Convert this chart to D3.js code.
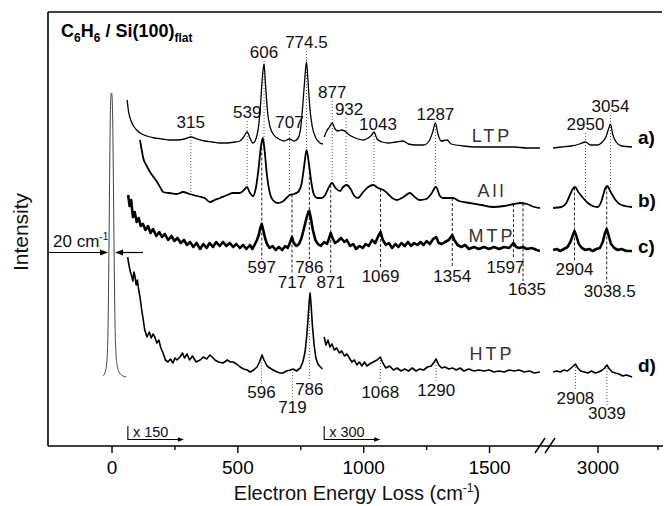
<!DOCTYPE html>
<html>
<head>
<meta charset="utf-8">
<script src="https://cdn.jsdelivr.net/npm/d3@7"></script>
<style>
  body { margin: 0; background: #fff; }
  svg { display: block; font-family: "Liberation Sans", Arial, Helvetica, sans-serif; }
</style>
</head>
<body>
<svg id="chart" width="665" height="506"></svg>
<script>
// --- Spectra: [energy loss (cm-1), intensity (arb. units)] ---
const elastic = [[-34,70],[-25,74],[-18,86],[-14,116],[-11,176],[-8,256],[-5,326],[-2,351],[0,353],[2,350],[5,321],[8,251],[11,176],[14,121],[18,91],[22,81],[30,74],[40,71],[58,69]];

// a) LTP
const ltpLow = [[62,346],[68,334],[75,327],[85,321],[100,316],[120,312],[140,310],[170,308],[200,307],[230,306],[260,306],[290,307],[315,309],[340,307],[370,305],[400,304],[430,303],[460,303],[490,304],[510,305],[525,309],[539,314],[550,308],[562,303],[575,308],[585,321],[592,341],[598,364],[606,382],[612,361],[620,334],[630,319],[645,311],[665,307],[685,305],[707,307],[725,305],[742,308],[752,319],[760,341],[767,364],[774.5,384],[781,364],[788,338],[798,319],[812,308],[828,303],[840,302]];
const ltpMid = [[845,309],[855,315],[866,319],[877,323],[888,317],[900,315],[915,316],[932,314],[945,311],[960,309],[980,307],[1000,306],[1020,308],[1034,311],[1043,314],[1055,307],[1075,304],[1100,303],[1130,304],[1158,305],[1180,302],[1210,301],[1240,301],[1262,305],[1276,314],[1287,323],[1297,312],[1310,305],[1333,306],[1350,302],[1400,300],[1450,299],[1500,299],[1550,299],[1600,299],[1650,298],[1702,298]];
const ltpHigh = [[2815,298],[2850,299],[2890,300],[2925,302],[2950,304],[2970,301],[3000,301],[3020,304],[3035,309],[3046,317],[3054,322],[3063,312],[3078,304],[3100,300],[3144,299]];

// b) All
const allLow = [[113,306],[120,296],[125,289],[140,280],[153,274],[170,268],[181,264],[195,258],[205,254],[230,253],[260,252],[284,254],[310,252],[340,250],[370,248],[391,244],[410,246],[431,248],[460,251],[483,253],[510,253],[530,257],[538,259],[550,253],[562,250],[575,260],[585,279],[594,300],[601,308],[608,296],[618,270],[630,252],[641,246],[660,243],[677,244],[695,248],[709,251],[725,252],[741,254],[755,262],[766,281],[775,296],[785,281],[795,262],[805,251],[818,248],[835,248],[849,251],[862,258],[876,263],[890,258],[908,255],[920,259],[935,261],[950,257],[965,250],[979,248],[1000,254],[1020,259],[1039,261],[1060,258],[1080,256],[1095,253],[1115,248],[1134,246],[1160,249],[1186,253],[1205,249],[1225,246],[1250,247],[1270,252],[1289,259],[1305,250],[1317,248],[1340,248],[1357,248],[1380,245],[1424,243],[1470,241],[1516,239],[1560,240],[1600,242],[1623,243],[1650,242],[1680,239],[1702,238]];
const allHigh = [[2815,238],[2850,239],[2870,243],[2885,251],[2897,257],[2906,259],[2920,254],[2940,248],[2960,243],[2980,240],[3000,239],[3015,244],[3025,252],[3033,258],[3040,260],[3055,254],[3075,246],[3100,241],[3144,239]];

// c) MTP
const mtpLow = [[66,251],[72,240],[78,246],[85,229],[92,234],[100,224],[108,228],[116,220],[125,222],[135,216],[145,220],[155,213],[165,217],[178,210],[190,214],[200,209],[212,212],[225,206],[238,210],[250,205],[262,208],[275,203],[288,206],[300,201],[312,204],[325,199],[338,203],[352,197],[365,202],[378,198],[390,203],[403,199],[416,204],[430,200],[443,204],[456,200],[470,203],[483,199],[496,202],[510,198],[523,201],[536,197],[550,201],[560,197],[570,202],[578,206],[585,211],[590,217],[597,222],[603,216],[610,208],[618,202],[628,198],[640,200],[652,196],[665,199],[678,196],[690,200],[700,198],[710,204],[717,209],[724,203],[735,200],[745,202],[755,208],[765,218],[775,228],[782,234],[786,235],[792,228],[800,216],[810,206],[820,202],[832,200],[845,204],[856,202],[865,208],[871,213],[878,208],[888,203],[900,205],[912,208],[925,204],[935,206],[948,200],[960,202],[972,197],[985,200],[998,198],[1010,202],[1022,200],[1035,206],[1048,203],[1060,210],[1069,214],[1078,206],[1090,201],[1102,203],[1115,198],[1128,202],[1140,199],[1152,203],[1165,200],[1178,204],[1190,200],[1202,203],[1215,201],[1228,204],[1240,201],[1252,205],[1265,202],[1278,207],[1290,209],[1300,203],[1312,202],[1325,204],[1340,206],[1354,211],[1362,206],[1375,201],[1390,199],[1405,201],[1420,197],[1440,199],[1460,197],[1480,199],[1500,197],[1520,199],[1540,197],[1560,199],[1580,198],[1597,203],[1608,199],[1620,198],[1635,199],[1650,197],[1670,198],[1690,196],[1702,195]];
const mtpHigh = [[2815,196],[2830,197],[2845,195],[2860,197],[2875,199],[2887,204],[2896,210],[2904,215],[2912,210],[2922,202],[2935,198],[2950,196],[2965,197],[2980,195],[2995,197],[3010,198],[3022,204],[3030,212],[3038,217],[3046,211],[3056,202],[3070,198],[3085,196],[3100,197],[3120,195],[3144,195]];

// d) HTP
const htpLow = [[64,189],[70,180],[75,174],[80,170],[85,165],[89,174],[93,170],[98,161],[103,166],[108,156],[113,149],[120,136],[125,128],[132,116],[141,109],[150,114],[158,108],[165,112],[172,109],[180,103],[188,106],[196,98],[205,93],[214,86],[224,84],[234,87],[244,83],[252,88],[260,86],[272,89],[282,93],[290,88],[300,92],[310,86],[322,90],[336,84],[352,86],[365,89],[378,87],[391,91],[400,89],[411,86],[425,84],[443,83],[460,86],[473,84],[483,84],[497,82],[511,79],[525,77],[540,76],[550,74],[565,76],[578,79],[588,84],[598,91],[606,86],[618,80],[635,77],[658,74],[670,73],[681,73],[695,75],[710,76],[721,77],[735,75],[750,78],[760,84],[769,94],[776,111],[781,128],[786,146],[789,153],[793,141],[798,121],[805,101],[812,88],[820,82],[830,79],[838,77]];
const htpMid = [[845,109],[852,101],[860,106],[868,99],[876,102],[885,96],[895,98],[905,93],[915,95],[925,90],[935,92],[945,88],[955,84],[965,86],[975,81],[985,84],[995,80],[1005,84],[1015,80],[1025,82],[1040,84],[1055,86],[1068,89],[1078,83],[1090,78],[1105,80],[1120,76],[1135,78],[1150,75],[1165,77],[1180,75],[1195,78],[1210,75],[1225,77],[1240,76],[1255,79],[1270,80],[1282,84],[1290,87],[1300,81],[1312,78],[1325,79],[1340,77],[1355,78],[1370,76],[1385,78],[1400,75],[1420,77],[1440,75],[1460,76],[1480,75],[1500,76],[1520,74],[1540,75],[1560,74],[1580,76],[1600,75],[1620,76],[1640,74],[1660,75],[1680,73],[1702,74]];
const htpHigh = [[2815,74],[2830,75],[2845,74],[2860,76],[2875,75],[2890,78],[2900,80],[2908,82],[2918,78],[2930,75],[2945,74],[2960,73],[2975,75],[2990,73],[3005,74],[3020,76],[3030,78],[3039,81],[3050,77],[3062,74],[3075,73],[3090,72],[3105,70],[3120,71],[3144,69]];

// Peak assignments (cm-1)
const ltpPeaks = [315, 539, 606, 707, 774.5, 877, 932, 1043, 1287, 2950, 3054];
const mtpPeaks = [597, 717, 786, 871, 1069, 1354, 1597, 1635, 2904, 3038.5];
const htpPeaks = [596, 719, 786, 1068, 1290, 2908, 3039];

const traceNames = ["LTP", "All", "MTP", "HTP"];
const traceTags = ["a)", "b)", "c)", "d)"];
const majorTicks = [0, 500, 1000, 1500];
const majorTicksHigh = [3000];
const minorTicks = [250, 750, 1250];
const minorTicksHigh = [3250];
const gainMarks = [[65, "x 150"], [845, "x 300"]];

// --- Layout ---
const svg = d3.select("#chart");
const xLow = d3.scaleLinear().domain([-250, 1720]).range([48.6, 544.4]);
const xHigh = d3.scaleLinear().domain([2790, 3300]).range([547.1, 669.5]);
const y = d3.scaleLinear().domain([0, 434]).range([446, 12]);
const xPos = v => v <= 1720 ? xLow(v) : xHigh(v);

// interpolate a trace at v (for the guide lines)
function valueAt(segments, v) {
  for (const seg of segments) {
    if (v >= seg[0][0] && v <= seg[seg.length - 1][0]) {
      const i = d3.bisector(d => d[0]).left(seg, v);
      if (i === 0) return seg[0][1];
      const a = seg[i - 1], b = seg[i];
      return a[1] + (b[1] - a[1]) * (v - a[0]) / (b[0] - a[0]);
    }
  }
  return 0;
}

function drawSeg(data, scale, width, curve, color) {
  const line = d3.line().x(d => scale(d[0])).y(d => y(d[1])).curve(curve);
  svg.append("path").datum(data)
    .attr("d", line)
    .attr("fill", "none")
    .attr("stroke", color || "#000")
    .attr("stroke-width", width)
    .attr("stroke-linejoin", "round");
}

// frame: left axis + top line
svg.append("line").attr("x1", 48).attr("x2", 48).attr("y1", 12).attr("y2", 446)
  .attr("stroke", "#000").attr("stroke-width", 1.6);
svg.append("line").attr("x1", 48).attr("x2", 662).attr("y1", 12).attr("y2", 12)
  .attr("stroke", "#000").attr("stroke-width", 1.6);

// bottom axis
function addAxis(scale, values, size, labels) {
  const ax = d3.axisBottom(scale).tickValues(values).tickSize(size).tickSizeOuter(0).tickPadding(8)
    .tickFormat(labels ? d3.format("d") : "");
  const g = svg.append("g").attr("transform", "translate(0,446)").call(ax);
  g.select(".domain").remove();
  g.selectAll(".tick line").attr("stroke-width", 1.4);
  g.selectAll("text").attr("font-size", 19).attr("font-family", "Liberation Sans, Arial, sans-serif").attr("fill", "#000");
}
addAxis(xLow, majorTicks, 7, true);
addAxis(xHigh, majorTicksHigh, 7, true);
addAxis(xLow, minorTicks, 4, false);
addAxis(xHigh, minorTicksHigh, 4, false);
svg.append("line").attr("x1", 48).attr("x2", 663).attr("y1", 446).attr("y2", 446)
  .attr("stroke", "#000").attr("stroke-width", 1.6);
// axis break
[[535, 545], [545, 555]].forEach(([a, b]) => {
  svg.append("line").attr("x1", a).attr("y1", 453).attr("x2", b).attr("y2", 438)
    .attr("stroke", "#000").attr("stroke-width", 1.4);
});

// axis titles
const xt = svg.append("text").attr("x", 357).attr("y", 500).attr("text-anchor", "middle")
  .attr("font-size", 20).attr("fill", "#111");
xt.append("tspan").text("Electron Energy Loss (cm");
xt.append("tspan").attr("font-size", 12).attr("dy", -8).text("-1");
xt.append("tspan").attr("dy", 8).text(")");
svg.append("text").attr("transform", "translate(28,232) rotate(-90)").attr("text-anchor", "middle")
  .attr("font-size", 21).attr("fill", "#111").text("Intensity");

// title
const tt = svg.append("text").attr("x", 61).attr("y", 37).attr("font-size", 18).attr("font-weight", "bold");
tt.append("tspan").text("C");
tt.append("tspan").attr("font-size", 12).attr("dy", 5).text("6");
tt.append("tspan").attr("dy", -5).text("H");
tt.append("tspan").attr("font-size", 12).attr("dy", 5).text("6");
tt.append("tspan").attr("dy", -5).text(" / Si(100)");
tt.append("tspan").attr("font-size", 12).attr("dy", 5).text("flat");

// guide lines and peak labels
const ltpRow = {315: 128, 539: 118, 606: 58, 707: 128, 774.5: 48, 877: 98, 932: 115, 1043: 130, 1287: 120, 2950: 130, 3054: 112};
const mtpRow = {597: 273, 717: 288, 786: 273, 871: 288, 1069: 282, 1354: 282, 1597: 273, 1635: 295, 2904: 275, 3038.5: 297};
const htpRow = {596: 398, 719: 413, 786: 395, 1068: 398, 1290: 396, 2908: 404, 3039: 419};
const labelShift = {932: 3, 1043: 4, 1597: -8, 1635: 4, 3038.5: 3};
const allSegs = [allLow, allHigh];
const htpSegs = [htpLow, htpMid, htpHigh];

function guide(xp, y1, y2, dash, color) {
  svg.append("line").attr("x1", xp).attr("x2", xp).attr("y1", y1).attr("y2", y2)
    .attr("stroke", color).attr("stroke-width", 1).attr("stroke-dasharray", dash);
}
function peakLabel(v, base, dx) {
  svg.append("text").attr("x", xPos(v) + (dx || 0)).attr("y", base).attr("text-anchor", "middle")
    .attr("font-size", 17).attr("fill", "#111").text(String(v));
}
ltpPeaks.forEach(v => {
  guide(xPos(v), ltpRow[v] + 3, y(valueAt(allSegs, v)), "1,2", "#555");
  peakLabel(v, ltpRow[v], labelShift[v]);
});
mtpPeaks.forEach(v => {
  guide(xPos(v), y(valueAt(allSegs, v)), mtpRow[v] - 14, "3,2", "#222");
  peakLabel(v, mtpRow[v], labelShift[v]);
});
htpPeaks.forEach(v => {
  guide(xPos(v), y(valueAt(htpSegs, v)), htpRow[v] - 14, "1,2", "#555");
  peakLabel(v, htpRow[v], labelShift[v]);
});

// spectra
drawSeg(elastic, xLow, 1, d3.curveMonotoneX, "#444");
drawSeg(ltpLow, xLow, 1.3, d3.curveMonotoneX);
drawSeg(ltpMid, xLow, 1.3, d3.curveMonotoneX);
drawSeg(ltpHigh, xHigh, 1.3, d3.curveMonotoneX);
drawSeg(allLow, xLow, 1.8, d3.curveMonotoneX);
drawSeg(allHigh, xHigh, 1.8, d3.curveMonotoneX);
drawSeg(mtpLow, xLow, 2.6, d3.curveLinear);
drawSeg(mtpHigh, xHigh, 2.6, d3.curveLinear);
drawSeg(htpLow, xLow, 1.6, d3.curveLinear);
drawSeg(htpMid, xLow, 1.6, d3.curveLinear);
drawSeg(htpHigh, xHigh, 1.6, d3.curveLinear);

// trace names and tags
const nameRows = [142, 197, 242, 360];
const tagRows = [144, 207, 253, 372];
traceNames.forEach((n, i) => {
  svg.append("text").attr("x", 492).attr("y", nameRows[i]).attr("text-anchor", "middle")
    .attr("font-size", 18).attr("letter-spacing", 3).attr("fill", "#333").text(n);
});
traceTags.forEach((t, i) => {
  svg.append("text").attr("x", 638).attr("y", tagRows[i])
    .attr("font-size", 19).attr("font-weight", "bold").attr("fill", "#000").text(t);
});

// arrows
function arrowHead(tipX, tipY, dir, len, half) {
  svg.append("path")
    .attr("d", `M${tipX},${tipY}L${tipX - dir * len},${tipY - half}L${tipX - dir * len},${tipY + half}Z`)
    .attr("fill", "#000");
}
// FWHM marker of the elastic peak
svg.append("line").attr("x1", 49).attr("x2", 101).attr("y1", 252.5).attr("y2", 252.5).attr("stroke", "#000").attr("stroke-width", 1.2);
arrowHead(108, 252.5, 1, 8, 3);
svg.append("line").attr("x1", 143).attr("x2", 122).attr("y1", 252.5).attr("y2", 252.5).attr("stroke", "#000").attr("stroke-width", 1.2);
arrowHead(115, 252.5, -1, 8, 3);
const fw = svg.append("text").attr("x", 53).attr("y", 247).attr("font-size", 17).attr("fill", "#111");
fw.append("tspan").text("20 cm");
fw.append("tspan").attr("font-size", 10).attr("dy", -7).text("-1");

// gain factors
gainMarks.forEach(([v, label]) => {
  const x0 = xLow(v);
  svg.append("line").attr("x1", x0).attr("x2", x0).attr("y1", 426).attr("y2", 440).attr("stroke", "#000").attr("stroke-width", 1.1);
  svg.append("line").attr("x1", x0).attr("x2", x0 + 51).attr("y1", 439.5).attr("y2", 439.5).attr("stroke", "#000").attr("stroke-width", 1.1);
  arrowHead(x0 + 56, 439.5, 1, 6, 2.2);
  svg.append("text").attr("x", x0 + 5).attr("y", 436.5).attr("font-size", 14.5).attr("fill", "#111").text(label);
});
</script>
</body>
</html>
